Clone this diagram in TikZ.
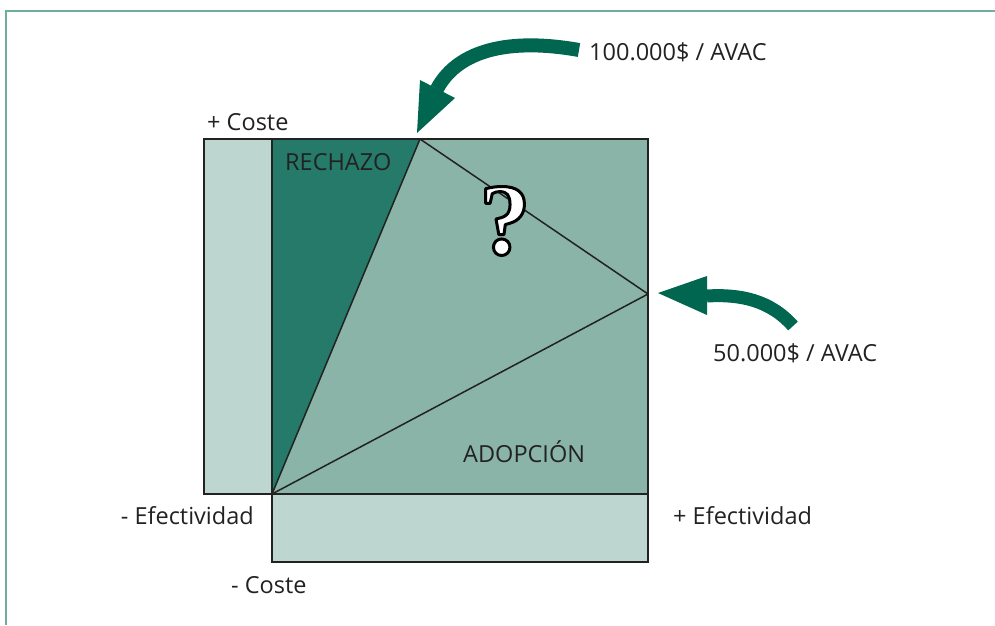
\documentclass[tikz,border=0pt]{standalone}
\usepackage{fontspec}
\setmainfont{Open Sans}
\newfontfamily\qfont{Liberation Serif}
\definecolor{frameteal}{HTML}{6FAE9E}
\definecolor{darkfill}{HTML}{257A6A}
\definecolor{midfill}{HTML}{8AB4A8}
\definecolor{lightfill}{HTML}{BDD6CF}
\definecolor{arrowgreen}{HTML}{00664F}
\definecolor{ink}{HTML}{222222}
% glyph filled white with a black outline (PDF text render mode 2)
\newcommand\outlinedglyph[1]{\special{pdf:literal q 2 Tr 3 w 1 j 0 G 1 g}#1\special{pdf:literal Q}}
\begin{document}
\begin{tikzpicture}[x=1pt,y=-1pt,
  lbl/.style={font=\fontsize{23.5}{27}\selectfont, text=ink, inner sep=0pt},
  box/.style={draw=ink, line width=2pt},
  split/.style={draw=ink, line width=1.5pt},
  bigarrow/.style={draw=arrowgreen, line width=14pt},
  qmark/.style={font=\qfont\bfseries\fontsize{102}{106}\selectfont, inner sep=0pt}]
\useasboundingbox (0,0) rectangle (995,625);
% page frame
\draw[frameteal, line width=2pt] (5.5,625) -- (5.5,10.5) -- (995,10.5);

% corners of the cost-effectiveness plane
\coordinate (sw) at (272,494);
\coordinate (nw) at (272,139);
\coordinate (ne) at (648,139);
\coordinate (se) at (648,494);
\coordinate (top) at (420,139);
\coordinate (mid) at (648,294);

% cost and effectiveness strips
\fill[lightfill] (204,139) rectangle (sw);
\fill[lightfill] (sw) rectangle (648,562);
% quadrant and rejection wedge
\fill[midfill] (nw) rectangle (se);
\fill[darkfill] (sw) -- (nw) -- (top) -- cycle;
\draw[split] (sw) -- (top);
\draw[split] (top) -- (mid);
\draw[split] (sw) -- (mid);
\draw[box] (204,139) rectangle (sw);
\draw[box] (sw) rectangle (648,562);
\draw[box] (nw) rectangle (se);

% thresholds
\node[lbl, anchor=west] (t100) at (589,52) {100.000\$ / AVAC};
\node[lbl, anchor=west] (t50) at (713,353) {50.000\$ / AVAC};

% curved arrows pointing to the thresholds
\draw[bigarrow] (579,50) .. controls (500,36) and (455,55) .. (437,89);
\fill[arrowgreen] (420,80) -- (455,98) -- (417,133) -- cycle;
\draw[bigarrow, line width=13pt] (793,326) .. controls (770,300) and (740,294) .. (707,296);
\fill[arrowgreen] (707,276) -- (707,315) -- (658,293) -- cycle;

% axis and region labels
\node[lbl, anchor=west] (cplus) at (207,122) {+ Coste};
\node[lbl, anchor=west] (rech) at (285,162) {RECHAZO};
\node[lbl, anchor=west] (adop) at (463,452) {ADOPCIÓN};
\node[lbl, anchor=east] (eminus) at (254,516) {- Efectividad};
\node[lbl, anchor=west] (eplus) at (673,516) {+ Efectividad};
\node[lbl, anchor=west] (cminus) at (231,585) {- Coste};

% outlined question mark
\node[qmark, text=white] (quest) at (505,221) {\outlinedglyph{?}};
\end{tikzpicture}
\end{document}
